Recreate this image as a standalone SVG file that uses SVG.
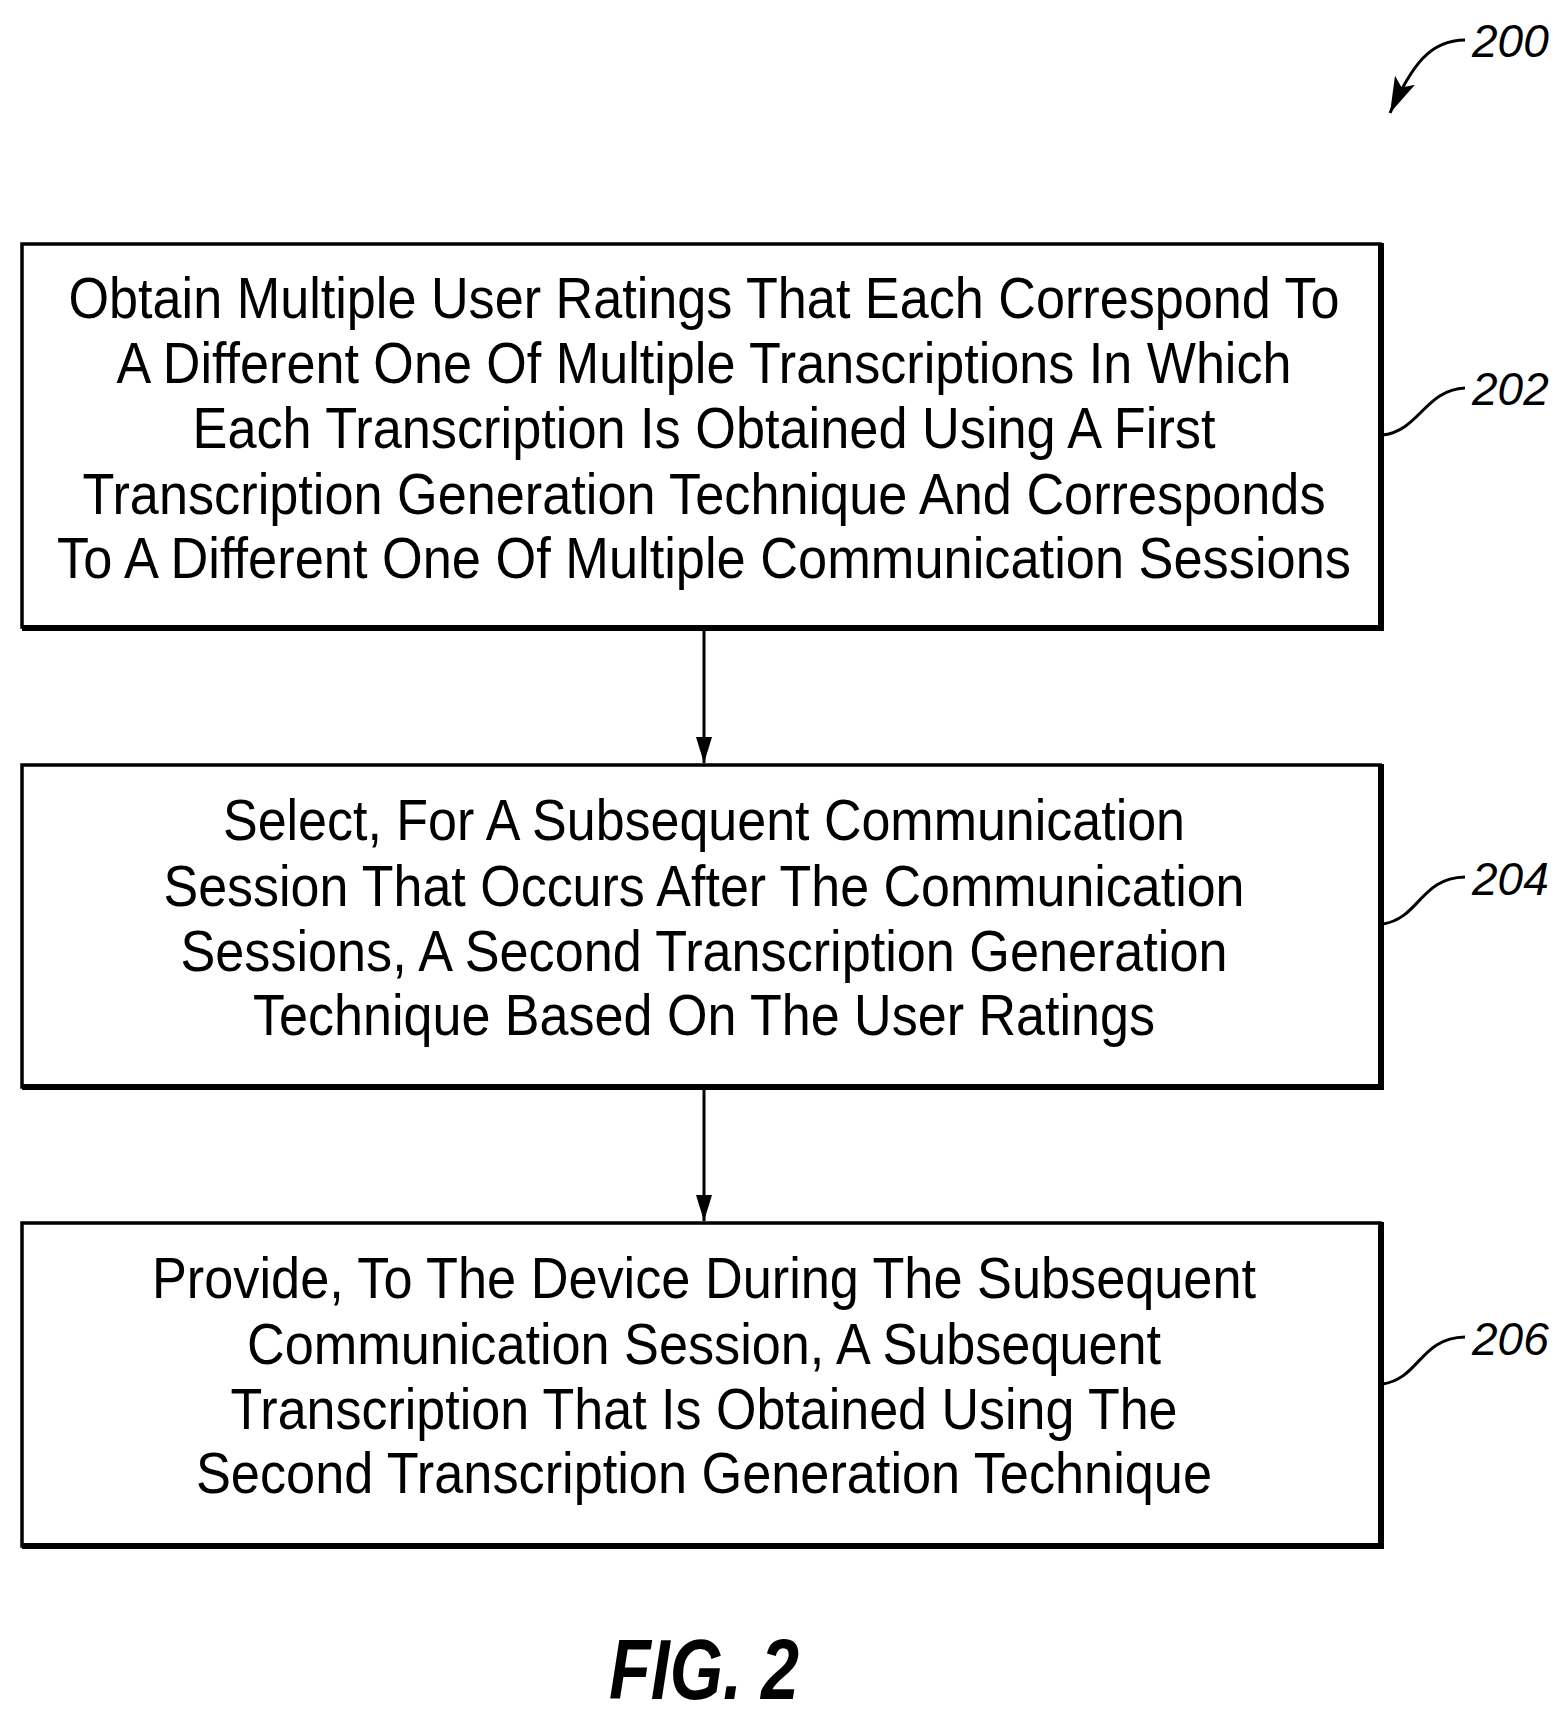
<svg xmlns="http://www.w3.org/2000/svg" width="1555" height="1714" viewBox="0 0 1555 1714">
<style>
.box{fill:none;stroke:#000;stroke-width:3.5}
.sh{stroke:#000;stroke-width:6;fill:none}
.t{font-family:"Liberation Sans",Arial,sans-serif;font-size:58px;text-anchor:middle;fill:#000}
.lbl{font-family:"Liberation Sans",Arial,sans-serif;font-size:46px;font-style:italic;fill:#000}
.ln{stroke:#000;stroke-width:3;fill:none}
</style>
<defs>
<marker id="ah" markerWidth="26" markerHeight="16" refX="26" refY="8" orient="auto" markerUnits="userSpaceOnUse" viewBox="0 0 26 16"><path d="M0,0 L26,8 L0,16 Z" fill="#000"/></marker>
<marker id="ah2" markerWidth="36" markerHeight="22" refX="36" refY="11" orient="auto" markerUnits="userSpaceOnUse" viewBox="0 0 36 22"><path d="M0,0 L36,11 L0,22 L8,11 Z" fill="#000"/></marker>
</defs>
<rect width="1555" height="1714" fill="#fff"/>
<g id="connectors">
<line class="ln" x1="704" y1="629" x2="704" y2="763" marker-end="url(#ah)"/>
<line class="ln" x1="704" y1="1089" x2="704" y2="1221" marker-end="url(#ah)"/>
<path class="ln" d="M1383,435 C1420,430 1425,390 1465,388"/>
<path class="ln" d="M1383,924 C1420,918 1420,878 1465,877"/>
<path class="ln" d="M1383,1384 C1420,1378 1420,1338 1465,1337"/>
<path class="ln" d="M1465,40 C1430,40 1412,65 1390,113" marker-end="url(#ah2)"/>
</g>
<g id="n200"><text class="lbl" x="1472" y="57">200</text></g>
<g id="n202">
<rect class="box" x="22" y="244" width="1358" height="383"/>
<path class="sh" d="M1381,243 V628 H22"/>
<text class="t" x="704" y="318" textLength="1271" lengthAdjust="spacingAndGlyphs">Obtain Multiple User Ratings That Each Correspond To</text>
<text class="t" x="704" y="383" textLength="1175" lengthAdjust="spacingAndGlyphs">A Different One Of Multiple Transcriptions In Which</text>
<text class="t" x="704" y="448" textLength="1023" lengthAdjust="spacingAndGlyphs">Each Transcription Is Obtained Using A First</text>
<text class="t" x="704" y="514" textLength="1243" lengthAdjust="spacingAndGlyphs">Transcription Generation Technique And Corresponds</text>
<text class="t" x="704" y="578" textLength="1294" lengthAdjust="spacingAndGlyphs">To A Different One Of Multiple Communication Sessions</text>
<text class="lbl" x="1472" y="405">202</text>
</g>
<g id="n204">
<rect class="box" x="22" y="765" width="1358" height="322"/>
<path class="sh" d="M1381,764 V1087 H22"/>
<text class="t" x="704" y="840" textLength="962" lengthAdjust="spacingAndGlyphs">Select, For A Subsequent Communication</text>
<text class="t" x="704" y="906" textLength="1081" lengthAdjust="spacingAndGlyphs">Session That Occurs After The Communication</text>
<text class="t" x="704" y="971" textLength="1047" lengthAdjust="spacingAndGlyphs">Sessions, A Second Transcription Generation</text>
<text class="t" x="704" y="1035" textLength="902" lengthAdjust="spacingAndGlyphs">Technique Based On The User Ratings</text>
<text class="lbl" x="1472" y="895">204</text>
</g>
<g id="n206">
<rect class="box" x="22" y="1223" width="1358" height="323"/>
<path class="sh" d="M1381,1222 V1546 H22"/>
<text class="t" x="704" y="1298" textLength="1104" lengthAdjust="spacingAndGlyphs">Provide, To The Device During The Subsequent</text>
<text class="t" x="704" y="1364" textLength="914" lengthAdjust="spacingAndGlyphs">Communication Session, A Subsequent</text>
<text class="t" x="704" y="1429" textLength="947" lengthAdjust="spacingAndGlyphs">Transcription That Is Obtained Using The</text>
<text class="t" x="704" y="1493" textLength="1016" lengthAdjust="spacingAndGlyphs">Second Transcription Generation Technique</text>
<text class="lbl" x="1472" y="1355">206</text>
</g>
<text x="704" y="1699" font-family="Liberation Sans,Arial,sans-serif" font-size="86" font-weight="bold" font-style="italic" text-anchor="middle" textLength="190" lengthAdjust="spacingAndGlyphs">FIG. 2</text>
</svg>
